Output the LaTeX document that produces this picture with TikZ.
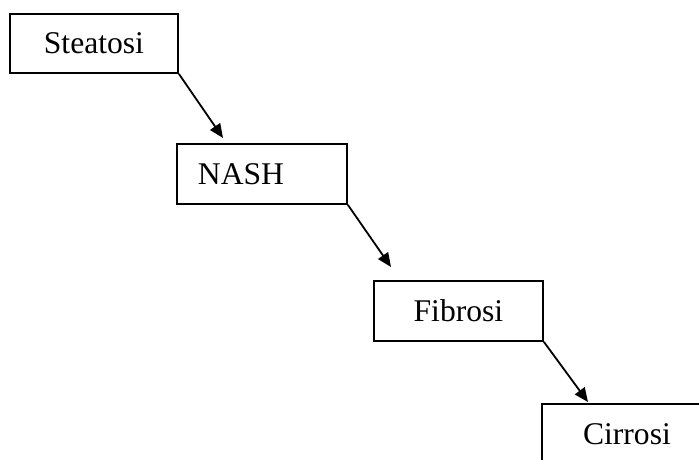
\documentclass[tikz,border=0pt]{standalone}
\usepackage{fontspec}
\setmainfont{Liberation Serif}
\usetikzlibrary{arrows.meta}
\begin{document}
\begin{tikzpicture}[x=1pt,y=-1pt,
  stagebox/.style={draw, line width=1.9pt, inner sep=0pt, minimum height=60pt,
    font=\fontsize{31.6}{36}\selectfont},
  flow/.style={line width=1.8pt, -{Triangle[length=14pt,width=12pt]}}]
\path[use as bounding box, clip] (0,0) rectangle (699,460);
\node[stagebox, minimum width=168pt, minimum height=59pt, anchor=north west] (ste) at (9,13) {Steatosi};
\node[stagebox, minimum width=170pt, text width=128pt, align=left, anchor=north west] (nash) at (176,143) {NASH};
\node[stagebox, minimum width=169pt, anchor=north west] (fib) at (373,280) {Fibrosi};
\node[stagebox, minimum width=170pt, anchor=north west] (cir) at (541,403) {Cirrosi};
\coordinate (t1) at (223,138);
\coordinate (t2) at (391,267);
\coordinate (t3) at (588,402);
\draw[flow] (ste.south east) -- (t1);
\draw[flow] (nash.south east) -- (t2);
\draw[flow] (fib.south east) -- (t3);
\end{tikzpicture}
\end{document}
